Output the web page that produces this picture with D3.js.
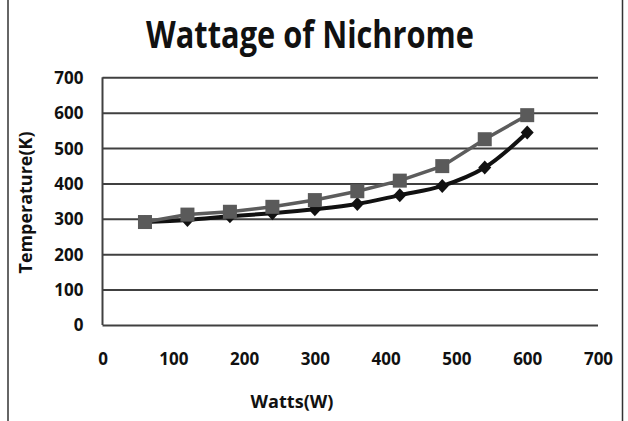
<!DOCTYPE html>
<html>
<head>
<meta charset="utf-8">
<script src="https://cdn.jsdelivr.net/npm/d3@7"></script>
<style>
  body { margin: 0; background: #fff; }
  text { font-family: "Open Sans", "DejaVu Sans", sans-serif; font-weight: bold; fill: #111; }
</style>
</head>
<body>
<script>
// data
var watts = [60, 120, 180, 240, 300, 360, 420, 480, 540, 600];
var tempBlack = [291, 297, 307, 316, 327, 342, 367, 393, 445, 544];
var tempGray = [291, 312, 320, 334, 353, 378, 408, 449, 525, 593];
var xTicks = [0, 100, 200, 300, 400, 500, 600, 700];
var yTicks = [0, 100, 200, 300, 400, 500, 600, 700];

var W = 628, H = 421;

var svg = d3.select("body").append("svg")
            .attr("width", W)
            .attr("height", H);

// frame lines left and right
svg.append("line").attr("x1", 8).attr("x2", 8).attr("y1", 0).attr("y2", H)
   .style("stroke", "#333").style("stroke-width", 1.5);
svg.append("line").attr("x1", 622.5).attr("x2", 622.5).attr("y1", 0).attr("y2", H)
   .style("stroke", "#333").style("stroke-width", 1.5);

var x = d3.scaleLinear().domain([0, 700]).range([102.5, 598]);
var y = d3.scaleLinear().domain([0, 700]).range([325, 77.3]);

// gridlines + y labels
var gy = svg.append("g")
            .attr("transform", "translate(" + x(0) + ",0)")
            .call(d3.axisLeft(y).tickValues(yTicks).tickSize(-(x(700) - x(0))).tickPadding(19));
gy.select(".domain").remove();
gy.selectAll(".tick line").style("stroke", "#404040").style("stroke-width", 2);
gy.selectAll(".tick text").style("font-size", "17px").attr("dy", "0.35em")
  .style("font-family", "\"Open Sans\", sans-serif").style("fill", "#111");

// left axis line
svg.append("line")
   .attr("x1", x(0)).attr("x2", x(0))
   .attr("y1", y(700)).attr("y2", y(0))
   .style("stroke", "#404040").style("stroke-width", 2);

// x labels
var gx = svg.append("g")
            .attr("transform", "translate(0," + y(0) + ")")
            .call(d3.axisBottom(x).tickValues(xTicks).tickSize(0));
gx.select(".domain").remove();
gx.selectAll(".tick text").attr("y", 34).attr("dy", "0.35em")
  .style("font-size", "17px").style("font-family", "\"Open Sans\", sans-serif").style("fill", "#111");

var pts = watts.map(function (w, i) { return { w: w, b: tempBlack[i], g: tempGray[i] }; });

// black series (smoothed)
var lineB = d3.line()
              .x(function (d) { return x(d.w); })
              .y(function (d) { return y(d.b); })
              .curve(d3.curveCatmullRom.alpha(0.5));
svg.append("path").datum(pts).attr("d", lineB)
   .style("fill", "none").style("stroke", "#111").style("stroke-width", 4);

svg.selectAll(".diam").data(pts).enter().append("path")
   .attr("class", "diam")
   .attr("transform", function (d) { return "translate(" + x(d.w) + "," + y(d.b) + ")"; })
   .attr("d", "M0,-7L6.5,0L0,7L-6.5,0Z")
   .style("fill", "#111");

// gray series
var lineG = d3.line()
              .x(function (d) { return x(d.w); })
              .y(function (d) { return y(d.g); });
svg.append("path").datum(pts).attr("d", lineG)
   .style("fill", "none").style("stroke", "#5c5c5c").style("stroke-width", 3.5);

svg.selectAll(".sq").data(pts).enter().append("rect")
   .attr("class", "sq")
   .attr("x", function (d) { return x(d.w) - 7; })
   .attr("y", function (d) { return y(d.g) - 7; })
   .attr("width", 14).attr("height", 14)
   .style("fill", "#5a5a5a");

// titles
svg.append("text")
   .attr("x", 310).attr("y", 47.5)
   .attr("text-anchor", "middle")
   .attr("textLength", 328).attr("lengthAdjust", "spacingAndGlyphs")
   .style("font-size", "38px")
   .text("Wattage of Nichrome");

svg.append("text")
   .attr("x", 292).attr("y", 402).attr("dy", "0.35em")
   .attr("text-anchor", "middle")
   .attr("textLength", 83).attr("lengthAdjust", "spacingAndGlyphs")
   .style("font-size", "17px")
   .text("Watts(W)");

svg.append("text")
   .attr("transform", "translate(26,202.5) rotate(-90)")
   .attr("dy", "0.35em")
   .attr("text-anchor", "middle")
   .attr("textLength", 142).attr("lengthAdjust", "spacingAndGlyphs")
   .style("font-size", "17px")
   .text("Temperature(K)");
</script>
</body>
</html>
